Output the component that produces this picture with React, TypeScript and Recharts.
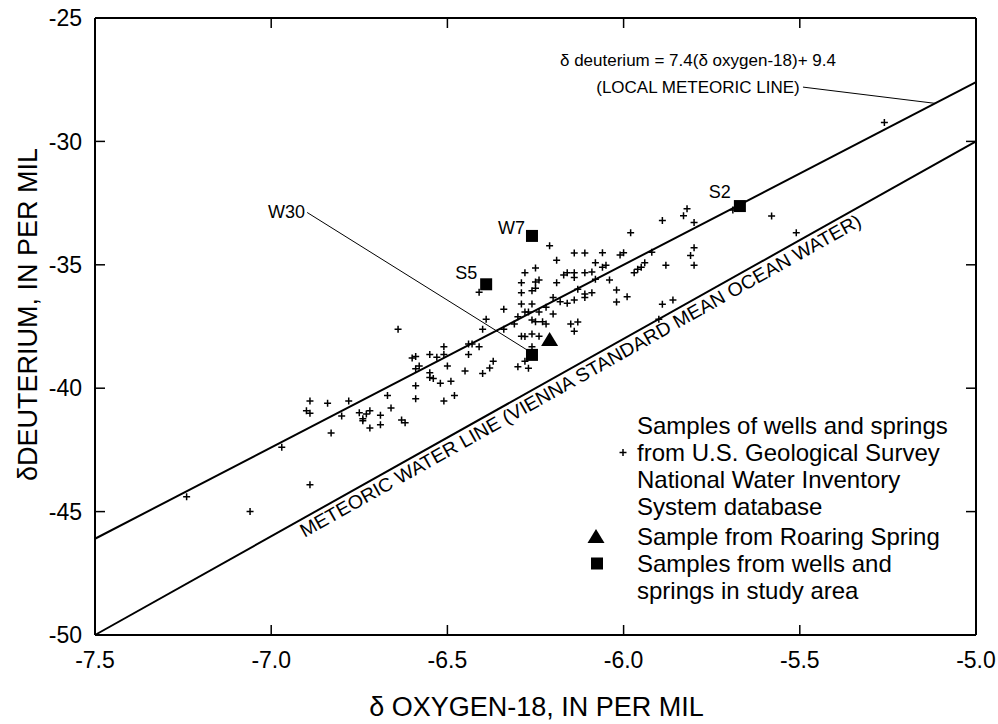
import React from "react";
import {
  ScatterChart,
  Scatter,
  XAxis,
  YAxis,
  ReferenceLine,
  ReferenceDot,
  Legend,
  Label,
} from "recharts";

const FONT = "'Liberation Sans', Arial, Helvetica, sans-serif";

// NWIS wells and springs: delta oxygen-18 and delta deuterium (per mil)
const nwisO18 = [
  -6.89, -6.84, -6.78, -6.9, -6.89, -6.8, -6.83, -6.97, -7.24, -6.89, -7.06, -5.26,
  -6.21, -6.14, -6.11, -6.19, -6.25, -6.28, -6.16, -6.14, -6.11, -6.24,
  -6.29, -6.25, -6.19, -6.13, -6.41, -6.29, -6.26, -6.25, -6.11, -6.11,
  -6.2, -6.14, -6.29, -6.26, -6.18, -6.16, -6.22, -6.34, -6.28, -6.27,
  -6.24, -6.2, -6.3, -6.39, -6.26, -6.25, -6.23, -6.22, -6.31, -6.15,
  -6.13, -6.64, -6.4, -6.34, -6.14, -6.29, -6.28, -6.26, -6.24, -6.51,
  -6.44, -6.43, -6.41, -6.26, -6.51, -6.44, -6.55, -6.53, -6.6, -6.59,
  -6.37, -6.5, -6.58, -6.59, -6.28, -6.3, -6.27, -6.38, -6.4, -6.45,
  -6.55, -6.54, -6.55, -6.52, -6.49, -6.59, -6.59, -6.51, -6.48, -6.67,
  -6.66, -6.75, -6.72, -6.73, -6.74, -6.74, -6.69, -6.69, -6.72, -6.63,
  -6.62,
  -5.82, -5.83, -5.89, -5.8, -5.98, -5.58, -5.51, -5.69, -6.06, -6.01,
  -6.0, -5.92, -6.08, -6.05, -6.06, -5.95, -5.96, -5.97, -5.94, -5.8,
  -5.81, -5.8, -5.88, -6.09, -6.08, -6.04, -6.09, -6.02, -6.02, -5.99,
  -5.89, -5.86, -5.9, -6.14, -6.17,
];
const nwisDD = [
  -40.52, -40.61, -40.52, -40.91, -41.02, -41.13, -41.82, -42.39, -44.4, -43.91, -45.0, -29.23,
  -34.23, -34.52, -34.52, -34.82, -35.13, -35.32, -35.32, -35.32, -35.32, -35.62,
  -35.73, -35.7, -35.73, -35.99, -36.11, -36.13, -36.05, -35.95, -36.32, -36.18,
  -36.32, -36.43, -36.59, -36.59, -36.5, -36.56, -36.72, -36.8, -36.91, -36.91,
  -36.91, -36.99, -37.1, -37.21, -37.24, -37.31, -37.31, -37.4, -37.4, -37.4,
  -37.32, -37.61, -37.61, -37.61, -37.69, -37.89, -37.91, -37.8, -37.89, -38.32,
  -38.21, -38.21, -38.32, -38.32, -38.63, -38.63, -38.63, -38.75, -38.78, -38.72,
  -38.91, -39.1, -39.1, -39.21, -38.91, -39.13, -39.19, -39.18, -39.4, -39.3,
  -39.57, -39.61, -39.37, -39.8, -39.72, -39.9, -40.43, -40.52, -40.3, -40.3,
  -40.8, -40.99, -40.91, -41.05, -41.32, -41.24, -41.1, -41.48, -41.61, -41.29,
  -41.4,
  -32.73, -33.01, -33.21, -33.29, -33.7, -33.02, -33.7, -32.78, -34.51, -34.6,
  -34.51, -34.49, -34.92, -35.02, -35.1, -35.1, -35.18, -35.32, -34.92, -34.31,
  -34.62, -35.02, -35.02, -35.29, -35.59, -35.62, -36.13, -36.02, -36.51, -36.29,
  -36.6, -36.43, -37.21, -35.51, -35.41,
];

// wells and springs in the study area
const studyNames = ["W7", "S5", "W30", "S2"];
const studyO18 = [-6.26, -6.39, -6.26, -5.67];
const studyDD = [-33.83, -35.79, -38.65, -32.62];

// Roaring Spring
const roaringO18 = [-6.21];
const roaringDD = [-38.05];

const xTicks = [-7.5, -7.0, -6.5, -6.0, -5.5, -5.0];
const yTicks = [-50, -45, -40, -35, -30, -25];

const X_MIN = -7.5;
const X_MAX = -5.0;
const Y_MIN = -50;
const Y_MAX = -25;

// local meteoric line and global (VSMOW) meteoric water line
const LMWL = { slope: 7.4, intercept: 9.4 };
const GMWL = { slope: 8, intercept: 10 };
const lineAt = (l: { slope: number; intercept: number }, x: number) => l.slope * x + l.intercept;

const nwisData = nwisO18.map((x, i) => ({ x, y: nwisDD[i] }));
const studyData = studyO18.map((x, i) => ({ x, y: studyDD[i], name: studyNames[i] }));
const roaringData = roaringO18.map((x, i) => ({ x, y: roaringDD[i] }));

// pixel offsets of the sample labels from their markers
const labelOffset: Record<string, [number, number]> = {
  W7: [-7, -8],
  S5: [-9, -12],
  S2: [-9, -14],
};

const legendItems = [
  {
    icon: "plus",
    iconLine: 1,
    lines: [
      "Samples of wells and springs",
      "from U.S. Geological Survey",
      "National Water Inventory",
      "System database",
    ],
  },
  { icon: "triangle", iconLine: 0, lines: ["Sample from Roaring Spring"] },
  { icon: "square", iconLine: 0, lines: ["Samples from wells and", "springs in study area"] },
];

const axisLine = { stroke: "#000", strokeWidth: 2 };
const tickLine = { stroke: "#000", strokeWidth: 1.5 };
const tickStyle = { fill: "#000", fontSize: 23, fontFamily: FONT };

function Cross({ cx, cy }: any) {
  return (
    <path
      d={`M${cx - 3.5},${cy}H${cx + 3.5}M${cx},${cy - 3.5}V${cy + 3.5}`}
      stroke="#000"
      strokeWidth={1.5}
      fill="none"
    />
  );
}

function Triangle({ cx, cy }: any) {
  return <path d={`M${cx},${cy - 8}L${cx + 8.5},${cy + 6}L${cx - 8.5},${cy + 6}Z`} fill="#000" />;
}

function StudySquare(props: any) {
  const { cx, cy, payload } = props;
  const off = labelOffset[payload.name];
  return (
    <g>
      <rect x={cx - 6} y={cy - 6} width={12} height={12} fill="#000" />
      {off && (
        <text
          x={cx + off[0]}
          y={cy + off[1]}
          dy="0.35em"
          textAnchor="end"
          fontSize={18}
          fontFamily={FONT}
          fill="#000"
        >
          {payload.name}
        </text>
      )}
    </g>
  );
}

function LegendIcon({ kind }: { kind: string }) {
  return (
    <svg width={57} height={27} style={{ display: "block" }}>
      {kind === "plus" && <Cross cx={43} cy={13.5} />}
      {kind === "triangle" && <Triangle cx={16} cy={14} />}
      {kind === "square" && <rect x={11} y={7.5} width={12} height={12} fill="#000" />}
    </svg>
  );
}

function LegendContent() {
  return (
    <div style={{ fontFamily: FONT, fontSize: 24, lineHeight: "27px", color: "#000" }}>
      {legendItems.map((item, i) => (
        <div key={i} style={{ display: "flex", marginTop: i === 1 ? 3 : 0 }}>
          <div style={{ width: 57, paddingTop: item.iconLine * 27 }}>
            <LegendIcon kind={item.icon} />
          </div>
          <div>
            {item.lines.map((l) => (
              <div key={l} style={{ whiteSpace: "nowrap" }}>
                {l}
              </div>
            ))}
          </div>
        </div>
      ))}
    </div>
  );
}

const smallText = (txt: string, anchor: "start" | "middle" | "end" = "middle") => (p: any) => (
  <text x={p.cx} y={p.cy} dy="0.35em" textAnchor={anchor} fontSize={17} fontFamily={FONT} fill="#000">
    {txt}
  </text>
);

export default function App() {
  return (
    <div style={{ position: "absolute", left: 0, top: 0, background: "#fff" }}>
      <ScatterChart width={998} height={724} margin={{ top: 17, right: 21, bottom: 88, left: 94 }}>
        <XAxis
          type="number"
          dataKey="x"
          domain={[X_MIN, X_MAX]}
          ticks={xTicks}
          interval={0}
          allowDataOverflow
          height={1}
          tickSize={-10}
          tickMargin={27}
          tickFormatter={(v: number) => v.toFixed(1)}
          tick={tickStyle}
          axisLine={axisLine}
          tickLine={tickLine}
        >
          <Label
            content={(p: any) => (
              <text
                x={p.viewBox.x + p.viewBox.width / 2 + 1}
                y={p.viewBox.y + 72}
                dy="0.35em"
                textAnchor="middle"
                fontSize={27}
                fontFamily={FONT}
                fill="#000"
              >
                δ OXYGEN-18, IN PER MIL
              </text>
            )}
          />
        </XAxis>
        <YAxis
          type="number"
          dataKey="y"
          domain={[Y_MIN, Y_MAX]}
          ticks={yTicks}
          interval={0}
          allowDataOverflow
          width={1}
          tickSize={-10}
          tickMargin={23}
          tick={tickStyle}
          axisLine={axisLine}
          tickLine={tickLine}
        >
          <Label
            content={(p: any) => {
              const cx = 28;
              const cy = p.viewBox.y + p.viewBox.height / 2 - 12;
              return (
                <text
                  x={cx}
                  y={cy}
                  dy="0.35em"
                  textAnchor="middle"
                  transform={`rotate(-90 ${cx} ${cy})`}
                  fontSize={27}
                  fontFamily={FONT}
                  fill="#000"
                >
                  δDEUTERIUM, IN PER MIL
                </text>
              );
            }}
          />
        </YAxis>
        <XAxis
          xAxisId="top"
          orientation="top"
          type="number"
          dataKey="x"
          domain={[X_MIN, X_MAX]}
          ticks={xTicks}
          interval={0}
          allowDataOverflow
          height={1}
          tickSize={-10}
          tickFormatter={() => ""}
          axisLine={axisLine}
          tickLine={tickLine}
        />
        <YAxis
          yAxisId="right"
          orientation="right"
          type="number"
          dataKey="y"
          domain={[Y_MIN, Y_MAX]}
          ticks={yTicks}
          interval={0}
          allowDataOverflow
          width={1}
          tickSize={-10}
          tickFormatter={() => ""}
          axisLine={axisLine}
          tickLine={tickLine}
        />

        <ReferenceLine
          segment={[
            { x: X_MIN, y: lineAt(LMWL, X_MIN) },
            { x: X_MAX, y: lineAt(LMWL, X_MAX) },
          ]}
          stroke="#000"
          strokeWidth={2}
        />
        <ReferenceLine
          segment={[
            { x: X_MIN, y: lineAt(GMWL, X_MIN) },
            { x: X_MAX, y: lineAt(GMWL, X_MAX) },
          ]}
          stroke="#000"
          strokeWidth={2}
        />
        {/* leader lines */}
        <ReferenceLine
          segment={[
            { x: -6.898, y: -32.88 },
            { x: -6.274, y: -38.45 },
          ]}
          stroke="#000"
          strokeWidth={1}
        />
        <ReferenceLine
          segment={[
            { x: -5.491, y: -27.8 },
            { x: -5.116, y: lineAt(LMWL, -5.116) },
          ]}
          stroke="#000"
          strokeWidth={1}
        />

        <Scatter name="NWIS" data={nwisData} shape={Cross} isAnimationActive={false} />
        <Scatter name="Roaring Spring" data={roaringData} shape={Triangle} isAnimationActive={false} />
        <Scatter name="Study area" data={studyData} shape={StudySquare} isAnimationActive={false} />

        <ReferenceDot
          x={-6.904}
          y={-32.86}
          r={0}
          shape={(p: any) => (
            <text x={p.cx} y={p.cy} dy="0.35em" textAnchor="end" fontSize={18} fontFamily={FONT} fill="#000">
              W30
            </text>
          )}
        />
        <ReferenceDot x={-5.789} y={-26.7} r={0} shape={smallText("δ deuterium = 7.4(δ oxygen-18)+ 9.4")} />
        <ReferenceDot x={-5.789} y={-27.8} r={0} shape={smallText("(LOCAL METEORIC LINE)")} />
        <ReferenceDot
          x={-6.1226}
          y={-39.49}
          r={0}
          shape={(p: any) => (
            <text
              x={p.cx}
              y={p.cy}
              dy="0.35em"
              textAnchor="middle"
              transform={`rotate(-29.26 ${p.cx} ${p.cy})`}
              fontSize={19}
              fontFamily={FONT}
              fill="#000"
              textLength={640}
              lengthAdjust="spacingAndGlyphs"
            >
              METEORIC WATER LINE (VIENNA STANDARD MEAN OCEAN WATER)
            </text>
          )}
        />

        <Legend
          layout="horizontal"
          verticalAlign="middle"
          align="center"
          wrapperStyle={{ position: "absolute", left: 580, top: 411.5, width: 400, margin: 0 }}
          content={() => <LegendContent />}
        />
      </ScatterChart>
    </div>
  );
}
